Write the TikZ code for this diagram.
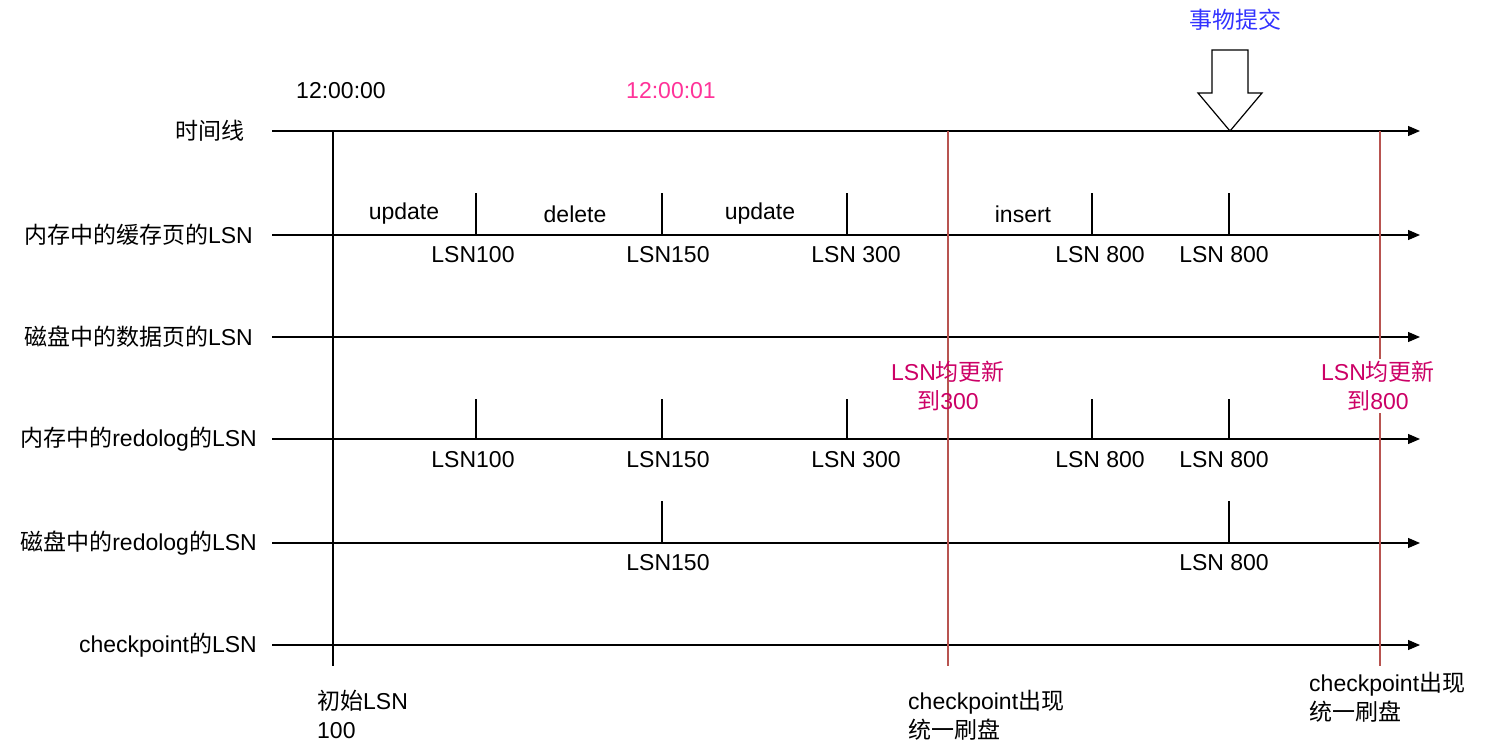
\documentclass[tikz,border=0pt]{standalone}
\usepackage{fontspec}
\setmainfont{Liberation Sans}
\newfontfamily\cjk{Noto Sans CJK SC}
\usetikzlibrary{arrows.meta}
\definecolor{myred}{RGB}{184,84,80}
\definecolor{mytxt}{RGB}{204,0,102}
\definecolor{mypink}{RGB}{255,51,153}
\definecolor{myblue}{RGB}{51,51,255}
\begin{document}
\begin{tikzpicture}[x=1pt,y=-1pt,
  every node/.style={font=\fontsize{23}{29}\selectfont,inner sep=0pt},
  axis/.style={line width=1.2pt,-{Triangle[length=12pt,width=10pt]}},
  tick/.style={line width=1.2pt},
  redl/.style={myred,line width=1.2pt},
  lbl/.style={anchor=east},
  lsn/.style={anchor=center}]
\useasboundingbox (0,0) rectangle (1512,749);
% row labels
\node[lbl] (r1) at (245,131) {{\cjk 时间线}};
\node[lbl] (r2) at (253,235) {{\cjk 内存中的缓存页的}LSN};
\node[lbl] (r3) at (253,337) {{\cjk 磁盘中的数据页的}LSN};
\node[lbl] (r4) at (257,439) {{\cjk 内存中的}redolog{\cjk 的}LSN};
\node[lbl] (r5) at (257,543) {{\cjk 磁盘中的}redolog{\cjk 的}LSN};
\node[lbl] (r6) at (257,645) {checkpoint{\cjk 的}LSN};
% axes
\foreach \y/\n in {131/a1,235/a2,337/a3,439/a4,543/a5,645/a6}{
  \coordinate (\n s) at (272,\y); \coordinate (\n e) at (1420,\y);
  \draw[axis] (\n s) -- (\n e);}
% vertical lines
\coordinate (v0t) at (333,131); \coordinate (v0b) at (333,666);
\draw[tick] (v0t) -- (v0b);
\coordinate (c1t) at (948,131); \coordinate (c1b) at (948,666);
\coordinate (c2t) at (1380,131); \coordinate (c2b) at (1380,666);
\draw[redl] (c1t) -- (c1b);
\draw[redl] (c2t) -- (c2b);
% ticks
\foreach \x in {476,662,847,1092,1229}{
  \draw[tick] (\x,193) -- (\x,235);
  \draw[tick] (\x,399) -- (\x,439);}
\foreach \x in {662,1229}{\draw[tick] (\x,501) -- (\x,543);}
% operations
\node (o1) at (404,214) {update};
\node (o2) at (575,214) {delete};
\node (o3) at (760,214) {update};
\node (o4) at (1023,214) {insert};
% LSN labels
\foreach \x/\t/\n in {473/LSN100/1,668/LSN150/2,856/LSN 300/3,1100/LSN 800/4,1224/LSN 800/5}{
  \node[lsn] (m\n) at (\x,255) {\t};
  \node[lsn] (d\n) at (\x,460) {\t};}
\node[lsn] (e1) at (668,563) {LSN150};
\node[lsn] (e2) at (1224,563) {LSN 800};
% times
\node (t0) at (341,91) {12:00:00};
\node[text=mypink] (t1) at (671,91) {12:00:01};
% commit arrow
\draw[line width=1.2pt,fill=white] (1212,50) -- (1248,50) -- (1248,93) -- (1262,93)
  -- (1230,131) -- (1198,93) -- (1212,93) -- cycle;
\node[text=myblue] (ct) at (1235,20) {\cjk 事物提交};
% red texts
\node[text=mytxt,align=center] (x1) at (948,386) {LSN{\cjk 均更新}\\{\cjk 到}300};
\node[text=mytxt,align=center,fill=white,inner sep=2pt] (x2) at (1378,386) {LSN{\cjk 均更新}\\{\cjk 到}800};
% bottom texts
\node[anchor=north west,align=left] (b0) at (317,690) {{\cjk 初始}LSN\\100};
\node[anchor=north west,align=left] (b1) at (908,690) {checkpoint{\cjk 出现}\\{\cjk 统一刷盘}};
\node[anchor=north west,align=left] (b2) at (1309,672) {checkpoint{\cjk 出现}\\{\cjk 统一刷盘}};
\end{tikzpicture}
\end{document}
